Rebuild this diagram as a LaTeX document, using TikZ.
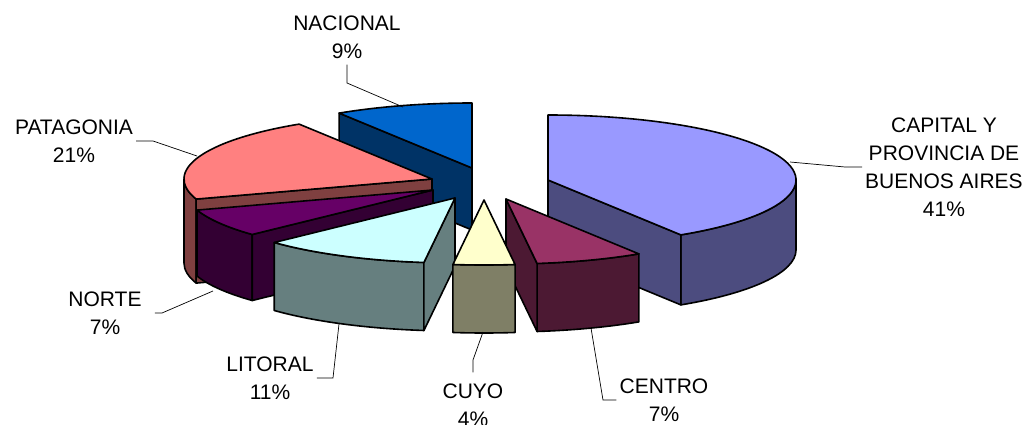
\documentclass[tikz,border=0pt]{standalone}
\usepackage{fontspec}
\setmainfont{Liberation Sans}
\usepackage{xcolor}
\usetikzlibrary{calc}

\definecolor{capTop}{HTML}{9999FF}
\definecolor{capSide}{HTML}{4C4C7F}
\definecolor{cenTop}{HTML}{993366}
\definecolor{cenSide}{HTML}{4C1933}
\definecolor{cuyTop}{HTML}{FFFFCC}
\definecolor{cuySide}{HTML}{7F7F66}
\definecolor{litTop}{HTML}{CCFFFF}
\definecolor{litSide}{HTML}{667F7F}
\definecolor{norTop}{HTML}{660066}
\definecolor{norSide}{HTML}{330033}
\definecolor{patTop}{HTML}{FF8080}
\definecolor{patSide}{HTML}{7F4040}
\definecolor{nacTop}{HTML}{0066CC}
\definecolor{nacSide}{HTML}{003366}

\begin{document}
\begin{tikzpicture}[x=1pt, y=1pt, x radius=248pt, y radius=65pt,
        face/.style={draw=black, line width=1.6pt, line join=round},
        leader/.style={draw=black, line width=0.7pt},
        lbl/.style={align=center, inner xsep=3pt, inner ysep=6pt, font=\fontsize{21}{28}\selectfont}]
    \useasboundingbox (0,0) rectangle (1029,424);

    \coordinate (nacC) at (472,256); \coordinate (nacB) at (472,194);
    \coordinate (patC) at (432,245); \coordinate (patB) at (432,161);
    \coordinate (norC) at (433,234); \coordinate (norB) at (433,168);
    \coordinate (capC) at (548,244); \coordinate (capB) at (548,174);
    \coordinate (litC) at (455,226); \coordinate (litB) at (455,158);
    \coordinate (cenC) at (506,225); \coordinate (cenB) at (506,157);
    \coordinate (cuyC) at (484,224);

    % NACIONAL
    \path[face, fill=nacSide] (nacC) -- ++(122.4:248pt and 65pt) -- ++(0,-62) -- (nacB) -- cycle;
    \path[face, fill=nacTop] (nacC) -- ++(122.4:248pt and 65pt) arc[start angle=122.4, end angle=90] -- cycle;
    % PATAGONIA
    \path[face, fill=patSide] (patC) ++(180:248pt and 65pt) arc[start angle=180, end angle=198] -- ++(0,-84) arc[start angle=198, end angle=180] -- cycle;
    \path[face, fill=patSide] (patC) -- ++(198:248pt and 65pt) -- ++(0,-84) -- (patB) -- cycle;
    \path[face, fill=patTop] (patC) -- ++(122.4:248pt and 65pt) arc[start angle=122.4, end angle=198] -- cycle;
    % NORTE
    \path[face, fill=norSide] (norC) ++(198:248pt and 65pt) arc[start angle=198, end angle=223.2] -- ++(0,-66) arc[start angle=223.2, end angle=198] -- cycle;
    \path[face, fill=norSide] (norC) -- ++(223.2:248pt and 65pt) -- ++(0,-66) -- (norB) -- cycle;
    \path[face, fill=norTop] (norC) -- ++(198:248pt and 65pt) arc[start angle=198, end angle=223.2] -- cycle;
    % CAPITAL Y PROVINCIA
    \path[face, fill=capSide] (capC) ++(-57.6:248pt and 65pt) arc[start angle=-57.6, end angle=0] -- ++(0,-70) arc[start angle=0, end angle=-57.6] -- cycle;
    \path[face, fill=capSide] (capC) -- ++(-57.6:248pt and 65pt) -- ++(0,-70) -- (capB) -- cycle;
    \path[face, fill=capTop] (capC) -- ++(-57.6:248pt and 65pt) arc[start angle=-57.6, end angle=90] -- cycle;
    % LITORAL
    \path[face, fill=litSide] (litC) ++(-136.8:248pt and 65pt) arc[start angle=-136.8, end angle=-97.2] -- ++(0,-68) arc[start angle=-97.2, end angle=-136.8] -- cycle;
    \path[face, fill=litSide] (litC) -- ++(-97.2:248pt and 65pt) -- ++(0,-68) -- (litB) -- cycle;
    \path[face, fill=litTop] (litC) -- ++(-136.8:248pt and 65pt) arc[start angle=-136.8, end angle=-97.2] -- cycle;
    % CENTRO
    \path[face, fill=cenSide] (cenC) ++(-82.8:248pt and 65pt) arc[start angle=-82.8, end angle=-57.6] -- ++(0,-68) arc[start angle=-57.6, end angle=-82.8] -- cycle;
    \path[face, fill=cenSide] (cenC) -- ++(-82.8:248pt and 65pt) -- ++(0,-68) -- (cenB) -- cycle;
    \path[face, fill=cenTop] (cenC) -- ++(-82.8:248pt and 65pt) arc[start angle=-82.8, end angle=-57.6] -- cycle;
    % CUYO
    \path[face, fill=cuySide] (cuyC) ++(-97.2:248pt and 65pt) arc[start angle=-97.2, end angle=-82.8] -- ++(0,-68) arc[start angle=-82.8, end angle=-97.2] -- cycle;
    \path[face, fill=cuyTop] (cuyC) -- ++(-97.2:248pt and 65pt) arc[start angle=-97.2, end angle=-82.8] -- cycle;

    % labels
    \node[lbl] (nacL) at (347,387) {NACIONAL\\9\%};
    \node[lbl] (patL) at (74,283) {PATAGONIA\\21\%};
    \node[lbl] (norL) at (105,111) {NORTE\\7\%};
    \node[lbl] (litL) at (270,46) {LITORAL\\11\%};
    \node[lbl] (cuyL) at (473,19) {CUYO\\4\%};
    \node[lbl] (cenL) at (664,24) {CENTRO\\7\%};
    \node[lbl] (capL) at (944,257) {CAPITAL Y\\PROVINCIA DE\\BUENOS AIRES\\41\%};

    \coordinate (nacK) at (347,341); \coordinate (nacP) at (403,317);
    \coordinate (patK) at (153,283); \coordinate (patP) at (197,268);
    \coordinate (norK) at (162,111); \coordinate (norP) at (213,133);
    \coordinate (litK) at (333,46);  \coordinate (litP) at (339,100);
    \coordinate (cuyK) at (473,64);  \coordinate (cuyP) at (483,92);
    \coordinate (cenK) at (603,24);  \coordinate (cenP) at (591,96);
    \coordinate (capK) at (845,257); \coordinate (capP) at (790,262);

    \draw[leader] (nacL.south) -- (nacK) -- (nacP);
    \draw[leader] (patL.east) -- (patK) -- (patP);
    \draw[leader, shorten <=10pt] (norL.east) -- (norK) -- (norP);
    \draw[leader] (litL.east) -- (litK) -- (litP);
    \draw[leader, shorten <=5pt] (cuyL.north) -- (cuyK) -- (cuyP);
    \draw[leader] (cenL.west) -- (cenK) -- (cenP);
    \draw[leader] (capL.west) -- (capK) -- (capP);
\end{tikzpicture}
\end{document}
